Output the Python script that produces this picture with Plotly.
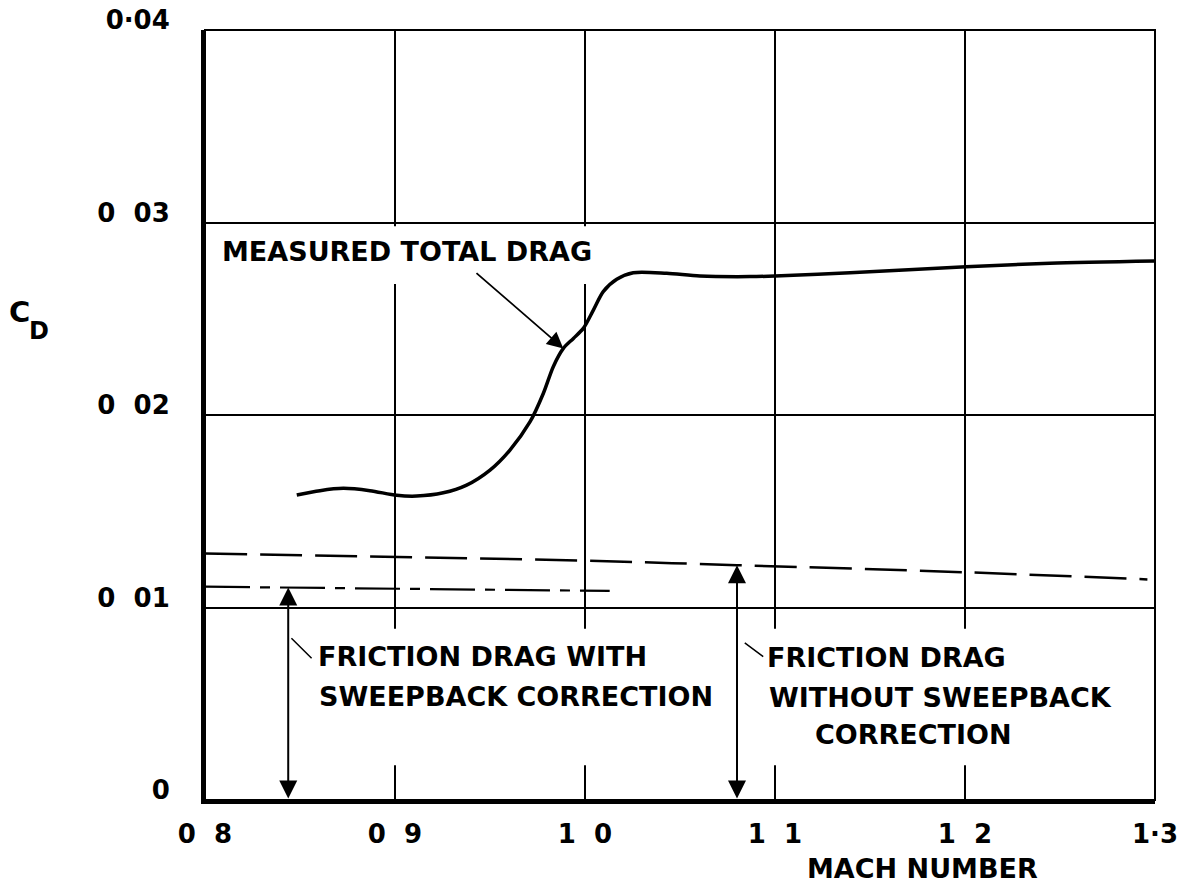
import numpy as np
import plotly.graph_objects as go

# ---------------- data ----------------
mach_measured = [0.8483, 0.8605, 0.8728, 0.8868, 0.9009, 0.9114, 0.9254, 0.9377,
                 0.9500, 0.9605, 0.9711, 0.9781, 0.9833, 0.9886, 0.9939, 0.9991,
                 1.0044, 1.0096, 1.0167, 1.0254, 1.0430, 1.0605, 1.0868, 1.1000,
                 1.1395, 1.2005, 1.2447, 1.3000]
cd_measured = [0.01584, 0.01607, 0.01619, 0.01607, 0.01583, 0.01579, 0.01596, 0.01636,
               0.01714, 0.01818, 0.01965, 0.02113, 0.02251, 0.02346, 0.02398, 0.02450,
               0.02545, 0.02641, 0.02705, 0.02739, 0.02736, 0.02722, 0.02719, 0.02722,
               0.02739, 0.02770, 0.02788, 0.02800]

mach_no_sweep = [0.800, 1.000, 1.080, 1.200, 1.296]
cd_no_sweep = [0.01280, 0.01243, 0.01220, 0.01183, 0.01146]

mach_sweep = [0.800, 1.013]
cd_sweep = [0.01108, 0.01086]

SP = "\u2002\u2009"
x_tickvals = [0.8, 0.9, 1.0, 1.1, 1.2, 1.3]
x_ticktext = ["0" + SP + "8", "0" + SP + "9", "1" + SP + "0", "1" + SP + "1",
              "1" + SP + "2", "1\u00b73"]
y_tickvals = [0.0, 0.01, 0.02, 0.03, 0.04]
y_ticktext = ["0", "0" + SP + "01", "0" + SP + "02", "0" + SP + "03", "0\u00b704"]

# marker positions for the dimension arrows (Mach number)
arrow_sweep_mach = 0.8438
arrow_no_sweep_mach = 1.0800
# point the "measured" leader aims at
leader_target_mach = 0.9886

FONT = "DejaVu Sans"
INK = "black"

fig = go.Figure()

fig.add_trace(go.Scatter(x=mach_measured, y=cd_measured, mode="lines",
                         line=dict(color=INK, width=3.5, shape="spline", smoothing=0.8),
                         hoverinfo="skip", showlegend=False))
fig.add_trace(go.Scatter(x=mach_no_sweep, y=cd_no_sweep, mode="lines",
                         line=dict(color=INK, width=2.5, dash="42px,13px", shape="spline"),
                         hoverinfo="skip", showlegend=False))
fig.add_trace(go.Scatter(x=mach_sweep, y=cd_sweep, mode="lines",
                         line=dict(color=INK, width=2.2, dash="45px,10px,10px,10px"),
                         hoverinfo="skip", showlegend=False))

top_sweep = float(np.interp(arrow_sweep_mach, mach_sweep, cd_sweep))
top_no_sweep = float(np.interp(arrow_no_sweep_mach, mach_no_sweep, cd_no_sweep))
leader_cd = float(np.interp(leader_target_mach, mach_measured, cd_measured))

annotations = []
for m, top in [(arrow_sweep_mach, top_sweep), (arrow_no_sweep_mach, top_no_sweep)]:
    annotations.append(dict(x=m, y=top, ax=m, ay=0.0, xref="x", yref="y",
                            axref="x", ayref="y", text="", showarrow=True,
                            arrowside="end+start", arrowhead=2, startarrowhead=2,
                            arrowsize=1.8, startarrowsize=1.8, arrowwidth=2,
                            arrowcolor=INK, standoff=0, startstandoff=0))

# leader for measured total drag
annotations.append(dict(x=leader_target_mach, y=leader_cd, ax=0.9421, ay=0.02744,
                        xref="x", yref="y", axref="x", ayref="y", text="",
                        showarrow=True, arrowhead=2, arrowsize=1.8, arrowwidth=1.8,
                        arrowcolor=INK, standoff=0))
# small leader ticks
for (x0, y0, x1, y1) in [(0.8447, 0.008483, 0.8561, 0.007359),
                         (1.0833, 0.008223, 1.0938, 0.007444)]:
    annotations.append(dict(x=x1, y=y1, ax=x0, ay=y0, xref="x", yref="y",
                            axref="x", ayref="y", text="", showarrow=True,
                            arrowhead=0, arrowwidth=1.5, arrowcolor=INK, standoff=0))

lab_font = dict(family=FONT, size=27, color=INK, weight="bold")
labels = [
    ("MEASURED TOTAL DRAG", 0.8079, 0.02847),
    ("FRICTION DRAG WITH", 0.8584, 0.00743),
    ("SWEEPBACK CORRECTION", 0.8589, 0.00540),
    ("FRICTION DRAG", 1.0947, 0.00738),
    ("WITHOUT SWEEPBACK", 1.0958, 0.00535),
    ("CORRECTION", 1.1200, 0.00338),
]
for t, x, y in labels:
    annotations.append(dict(x=x, y=y, xref="x", yref="y", text=t, showarrow=False,
                            xanchor="left", yanchor="middle", font=lab_font))

annotations.append(dict(x=922, y=887 - 868, xref="paper", yref="paper", text="MACH NUMBER",
                        showarrow=False, xanchor="center", yanchor="middle", font=lab_font))
annotations.append(dict(x=19, y=887 - 312, xref="paper", yref="paper", text="C",
                        showarrow=False, xanchor="center", yanchor="middle",
                        font=dict(family=FONT, size=29, color=INK, weight="bold")))
annotations.append(dict(x=39, y=887 - 331, xref="paper", yref="paper", text="D",
                        showarrow=False, xanchor="center", yanchor="middle",
                        font=dict(family=FONT, size=24, color=INK, weight="bold")))

# convert paper pixel positions to paper fractions
W, H = 1185, 887
ML, MR, MT, MB = 205, 30, 30, 87
pw, ph = W - ML - MR, H - MT - MB
for a in annotations:
    if a.get("xref") == "paper":
        a["x"] = (a["x"] - ML) / pw
        a["y"] = (a["y"] - MB) / ph

shapes = [
    # gaps in the grid behind lettering
    dict(type="rect", xref="x", yref="y", x0=0.85, x1=1.25, y0=0.0018, y1=0.0089,
         fillcolor="white", line=dict(width=0), layer="between"),
    dict(type="rect", xref="x", yref="y", x0=0.85, x1=1.05, y0=0.0268, y1=0.0298,
         fillcolor="white", line=dict(width=0), layer="between"),
    dict(type="rect", xref="x domain", yref="y domain", x0=0, x1=1, y0=0, y1=1,
         line=dict(color=INK, width=2), layer="above"),
]

tick_font = dict(family=FONT, size=26, color=INK, weight="bold")

fig.update_layout(
    width=W, height=H, margin=dict(l=ML, r=MR, t=MT, b=MB, autoexpand=False),
    paper_bgcolor="white", plot_bgcolor="white",
    annotations=annotations, shapes=shapes,
    xaxis=dict(range=[0.8, 1.3], tickvals=x_tickvals, ticktext=x_ticktext,
               showgrid=True, gridcolor=INK, gridwidth=1.5, zeroline=False,
               showline=True, linecolor=INK, linewidth=4, ticks="", automargin=False,
               tickfont=tick_font, ticklabelstandoff=8),
    yaxis=dict(range=[0, 0.04], tickvals=y_tickvals, ticktext=y_ticktext,
               showgrid=True, gridcolor=INK, gridwidth=1.8, zeroline=False,
               showline=True, linecolor=INK, linewidth=4, ticks="", automargin=False,
               tickfont=tick_font, ticklabelstandoff=26, ticklabelshift=-10),
)

fig.write_html("out.html")
